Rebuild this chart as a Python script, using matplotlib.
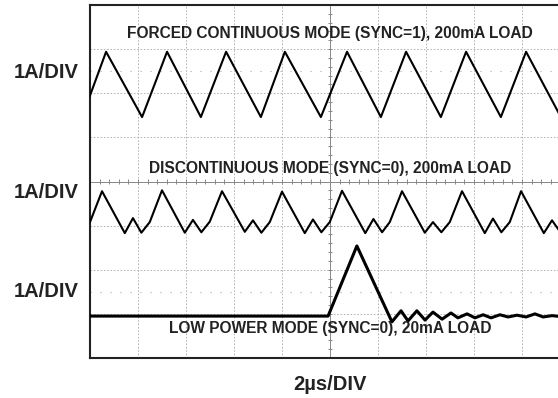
import matplotlib.pyplot as plt
import numpy as np

plt.rcParams["font.family"] = ["Liberation Sans", "DejaVu Sans"]

# time axis in us (2us/div, 10 div), current axis in divisions (8 div)
ccm_t = [-0.33, 0.67, 2.17, 3.21, 4.62, 5.67, 7.12, 8.12, 9.62, 10.71,
         12.12, 13.17, 14.62, 15.67, 17.12, 18.17, 19.62, 20.67]
ccm_i = [5.46, 6.94, 5.46, 6.94, 5.46, 6.94, 5.46, 6.94, 5.46, 6.94,
         5.46, 6.94, 5.46, 6.94, 5.46, 6.94, 5.46, 6.94]

dcm_t = [0.0, 0.5, 1.45, 1.79, 2.14, 2.49,
         3.0, 3.95, 4.29, 4.64, 4.99,
         5.5, 6.45, 6.79, 7.14, 7.49,
         8.0, 8.95, 9.29, 9.64, 9.99,
         10.5, 11.47, 11.81, 12.17, 12.49,
         13.0, 13.95, 14.29, 14.64, 14.99,
         15.5, 16.45, 16.79, 17.14, 17.49,
         17.96, 18.91, 19.25, 19.6, 19.95, 20.46]
dcm_i = [3.08, 3.78, 2.83, 3.17, 2.84, 3.08,
         3.80, 2.84, 3.13, 2.85, 3.09,
         3.78, 2.86, 3.12, 2.84, 3.08,
         3.77, 2.83, 3.14, 2.85, 3.08,
         3.79, 2.83, 3.15, 2.85, 3.08,
         3.78, 2.84, 3.08, 2.85, 3.08,
         3.78, 2.83, 3.16, 2.85, 3.08,
         3.78, 2.83, 3.12, 2.85, 3.08, 3.78]

lpm_t = [0.0, 9.92, 11.12, 12.58, 12.96, 13.25, 13.62, 13.96, 14.29, 14.67,
         15.04, 15.33, 15.71, 16.04, 16.38, 16.71, 17.08, 17.42, 17.79,
         18.17, 18.54, 18.88, 19.25, 19.6, 20.0]
lpm_i = [0.95, 0.95, 2.54, 0.82, 1.07, 0.84, 1.07, 0.86, 1.04, 0.88,
         1.02, 0.91, 1.00, 0.91, 0.98, 0.91, 0.98, 0.93, 0.97,
         0.93, 1.00, 0.93, 0.96, 0.94, 0.95]

titles = ["FORCED CONTINUOUS MODE (SYNC=1), 200mA LOAD",
          "DISCONTINUOUS MODE (SYNC=0), 200mA LOAD",
          "LOW POWER MODE (SYNC=0), 20mA LOAD"]
title_y = [7.35, 4.3, 0.67]
scale_y = [6.47, 3.75, 1.5]

fig = plt.figure(figsize=(5.58, 3.98), dpi=100)
ax = fig.add_axes([90 / 558, 40 / 398, 480 / 558, 353 / 398])
ax.set_xlim(0, 20)
ax.set_ylim(0, 8)

# graticule
for x in np.arange(2, 20, 2):
    if x != 10:
        ax.axvline(x, color="#aaaaaa", lw=0.6, ls=(0, (2, 2)), zorder=1)
for y in np.arange(1, 8, 1):
    if y != 4:
        ax.axhline(y, color="#aaaaaa", lw=0.6, ls=(0, (2, 2)), zorder=1)
ax.axvline(10, color="#888888", lw=0.7, zorder=1)
ax.axhline(4, color="#888888", lw=0.7, zorder=1)
for y in [6.5, 1.5]:
    ax.axhline(y, color="#aaaaaa", lw=0.8, ls=(0, (1, 8)), zorder=1)
tx = np.arange(0.4, 20, 0.4)
ax.vlines(tx, 3.95, 4.05, color="#888888", lw=0.7, zorder=1)
ty = np.arange(0.2, 8, 0.2)
ax.hlines(ty, 9.9, 10.1, color="#888888", lw=0.7, zorder=1)

ax.plot(ccm_t, ccm_i, color="black", lw=1.5, zorder=3)
ax.plot(dcm_t, dcm_i, color="black", lw=1.5, zorder=3)
ax.plot(lpm_t, lpm_i, color="black", lw=2.2, zorder=3)

for t, y in zip(titles, title_y):
    ax.text(10, y, t, ha="center", va="center", fontsize=11.2,
            fontweight="bold", color="#222222", zorder=4)

for y in scale_y:
    ax.text(-1.83, y, "1A/DIV", ha="center", va="center", fontsize=14.5,
            fontweight="bold", color="#222222")
ax.text(10, -0.6, "2\u00b5s/DIV", ha="center", va="center", fontsize=14.5,
        fontweight="bold", color="#222222")

ax.set_xticks([])
ax.set_yticks([])
for s in ax.spines.values():
    s.set_linewidth(1.5)
    s.set_color("#222222")

fig.savefig("out.png", dpi=100)
